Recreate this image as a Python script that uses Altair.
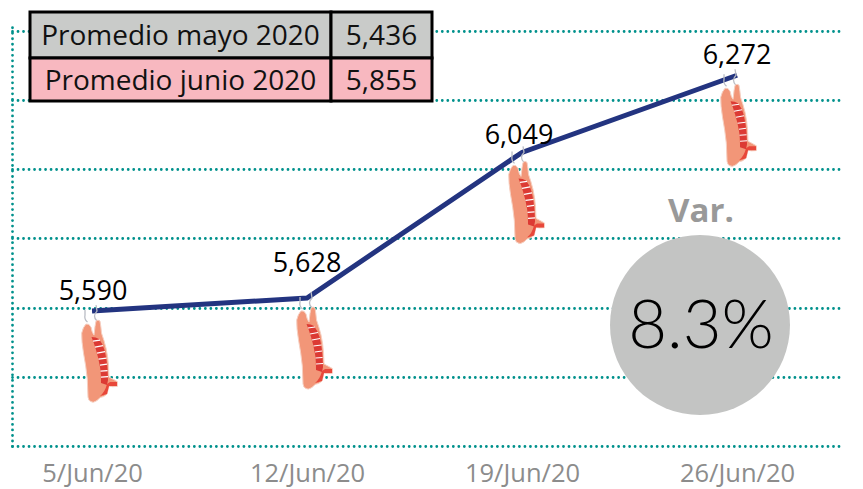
import altair as alt
import pandas as pd

dates = ["2020-06-05T00:00:00", "2020-06-12T00:00:00", "2020-06-19T00:00:00", "2020-06-26T00:00:00"]
values = [5590, 5628, 6049, 6272]
value_labels = ["5,590", "5,628", "6,049", "6,272"]
y_ticks = [5200, 5400, 5600, 5800, 6000, 6200, 6400]
table_rows = ["Promedio mayo 2020", "Promedio junio 2020"]
table_vals = ["5,436", "5,855"]
table_cols = ["#c9cbc9", "#f8b8c0"]
variation = "8.3%"
var_title = "Var."

FONT = "Open Sans"
TEAL = "#00918c"
DOTS = [0.01, 5.5]
df = pd.DataFrame({"date": dates, "value": values, "label": value_labels})

x = alt.X("date:T", title=None,
          scale=alt.Scale(domain=["2020-06-02T09:29:00", "2020-06-29T10:48:00"], nice=False),
          axis=alt.Axis(values=dates, format="%-d/%b/%y", domain=False, ticks=False, labelAngle=0,
                        labelColor="#8c8c8c", labelFontSize=25.5, labelFont=FONT, labelPadding=27,
                        labelBaseline="middle", labelFlush=False, labelOverlap=False, grid=False))
y = alt.Y("value:Q", title=None,
          scale=alt.Scale(domain=[5200, 6420.2], nice=False, zero=False),
          axis=alt.Axis(values=y_ticks, labels=False, ticks=False,
                        domain=True, domainColor=TEAL, domainWidth=2.8, domainDash=DOTS, domainCap="round",
                        grid=True, gridColor=TEAL, gridWidth=2.8, gridDash=DOTS, gridCap="round", gridOpacity=1))

base = alt.Chart(df)
line = base.mark_line(color="#233480", strokeWidth=5, strokeCap="butt").encode(x=x, y=y)

# hanging-meat pictogram as symbol glyphs (offsets in px from the data point, at size=4)
BODY = ("M-6 13Q-3 12 -1 16Q0 22 2 24Q3 14 4 10Q6 8 8 10Q9 16 9.5 22Q12 29 14 37Q16 46 16.5 55L17 66"
        "Q21 68 25.3 70.5L25.3 75.3Q20 76 17 75L15 83Q12 86 8 86.5Q6 89 4 90Q1 92 -1 90.5Q-3.5 90 -4 86"
        "L-4.7 68Q-6 55 -8.5 42Q-10.5 30 -10.3 22Q-9 16 -6 13Z")
RIBS = "M-.5 26Q4 26 7 28Q11 33 12.5 39Q15 50 15.5 58L16 69L15 74L9 72Q9 62 8 56Q6.5 47 4 39Q2 32 -.5 26Z"
TIP = "M8 85Q13 81 15 73L18 71L25 71L25 75L17 75L15 83Z"
STRIPES = "M1 30L8 29M3 36L11 34.5M5 42L13 40.5M6.5 48L14.5 47M8 54L15 53M8.5 60L15.5 59.5M9 66L16 65.5"
HOOKS = "M-4.5 11Q-8 8 -7 4L-7 -1M5 10Q0 5 5 0L4 -6"

layers = [line]
for i, off in enumerate([0, 0, -3, -6]):
    d = df.iloc[[i]]
    c = alt.Chart(d).encode(x=x, y=y)
    layers += [
        c.mark_point(shape=HOOKS, size=4, filled=False, stroke="#b9bcc4", strokeWidth=1.3, opacity=1, xOffset=off),
        c.mark_point(shape=BODY, size=4, filled=True, fill="#f29678", stroke="#f6d0c2", strokeWidth=1, opacity=1, xOffset=off),
        c.mark_point(shape=RIBS, size=4, filled=True, fill="#dc3a34", strokeWidth=0, opacity=1, xOffset=off),
        c.mark_point(shape=TIP, size=4, filled=True, fill="#e8473a", strokeWidth=0, opacity=1, xOffset=off),
        c.mark_point(shape=STRIPES, size=4, filled=False, stroke="#ffffff", strokeWidth=1.1, opacity=1, xOffset=off),
    ]

for i, (dx, dy) in enumerate([(1, -19), (0, -34), (-3, -16), (0, -19)]):
    layers.append(alt.Chart(df.iloc[[i]]).mark_text(fontSize=27, font=FONT, color="#000000", dx=dx, dy=dy)
                  .encode(x=x, y=y, text="label:N"))

# summary table (page px minus chart origin)
def cell(x0, x1, y0, y1, fill, txt):
    box = alt.Chart(pd.DataFrame({"t": [txt]})).mark_rect(fill=fill, stroke="#000000", strokeWidth=3).encode(
        x=alt.value(x0), x2=alt.value(x1), y=alt.value(y0), y2=alt.value(y1))
    label = alt.Chart(pd.DataFrame({"t": [txt]})).mark_text(fontSize=28, font=FONT, color="#111111").encode(
        x=alt.value((x0 + x1) / 2), y=alt.value((y0 + y1) / 2 + 2), text="t:N")
    return [box, label]

for r, (ya, yb) in enumerate([(-12, 34), (34, 77)]):
    layers += cell(18, 319, ya, yb, table_cols[r], table_rows[r])
    layers += cell(319, 420, ya, yb, table_cols[r], table_vals[r])

# variation badge
badge = alt.Chart(pd.DataFrame({"t": [variation], "v": [var_title]}))
layers += [
    badge.mark_point(shape="circle", filled=True, fill="#c3c4c3", size=32400, opacity=1, strokeWidth=0).encode(
        x=alt.value(688), y=alt.value(301)),
    badge.mark_text(fontSize=67, font="Lato", fontWeight=300, color="#000000").encode(
        x=alt.value(689), y=alt.value(304), text="t:N"),
    badge.mark_text(fontSize=33, font=FONT, fontWeight="bold", color="#999999").encode(
        x=alt.value(689), y=alt.value(188), text="v:N"),
]

chart = alt.layer(*layers).properties(
    width=831, height=422,
    padding={"left": 4, "top": 16, "right": 12, "bottom": 43},
    autosize=alt.AutoSizeParams(type="none"),
).configure_view(stroke=None)

chart.save("out.html", embed_options={"renderer": "svg", "actions": False})
